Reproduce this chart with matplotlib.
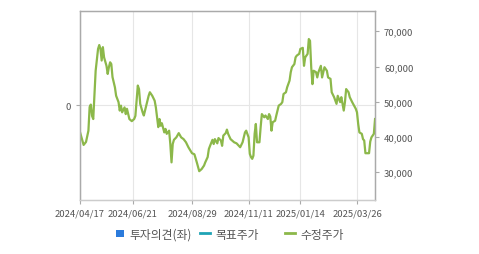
import matplotlib
matplotlib.use('Agg')
import matplotlib.pyplot as plt
from matplotlib.lines import Line2D
from matplotlib.patches import Patch

plt.rcParams['font.family'] = ['Noto Sans CJK KR', 'DejaVu Sans']

# trading-day index and adjusted close (수정주가)
day = [0, 2, 3, 5, 7, 8, 9, 10, 11, 12, 13, 15, 16, 17, 18, 19, 20, 22, 23, 24,
       25, 26, 27, 29, 30, 32, 33, 34, 35, 37, 38, 39, 41, 43, 45, 46, 47, 48, 49, 50,
       52, 53, 55, 57, 58, 60, 62, 63, 64, 65, 66, 67, 68, 70, 71, 72, 74, 75, 76, 77,
       78, 80, 82, 84, 86, 88, 90, 92, 93, 95, 97, 99, 101, 103, 104, 106, 107, 108, 110, 111,
       112, 114, 115, 117, 118, 119, 121, 122, 123, 125, 128, 130, 133, 135, 137, 138, 140, 141, 142, 143,
       144, 145, 146, 147, 149, 150, 151, 153, 154, 156, 157, 158, 159, 160, 162, 163, 165, 167, 168, 169,
       171, 172, 174, 175, 176, 178, 179, 180, 182, 183, 185, 186, 187, 189, 190, 191, 192, 193, 194, 196,
       197, 198, 200, 201, 203, 205, 206, 208, 209, 211, 213, 214, 216, 217, 219, 220, 221, 223, 224, 226,
       229, 230, 231, 232, 234, 235, 236, 237, 240, 241, 242, 244, 245]
price = [41400, 39000, 37750, 38600, 41800, 48500, 49200, 46000, 45100, 51700,
         58800, 65000, 66100, 65000, 61700, 65500, 62600, 60200, 57900, 59800,
         61200, 60700, 57000, 54100, 51700, 49900, 47500, 48900, 47000, 48400,
         46500, 48000, 45100, 44500, 45100, 46000, 50300, 54600, 53600, 49400,
         47000, 46100, 48900, 51700, 52700, 51700, 50300, 48400, 45600, 42800,
         45100, 43200, 43900, 41300, 42300, 40900, 41800, 38000, 32800, 38000,
         39200, 39900, 41100, 39900, 39400, 38500, 37100, 36000, 35400, 35100,
         32800, 30300, 30900, 31900, 32800, 34300, 36600, 37500, 39200, 38000,
         39400, 38200, 39700, 39000, 37500, 40400, 41100, 42100, 40900, 39400,
         38500, 38200, 37100, 38500, 41300, 41800, 39900, 35200, 34300, 33800,
         34700, 40900, 43700, 38500, 38500, 42800, 46500, 45600, 46100, 45100,
         46500, 45800, 41800, 44200, 44600, 46100, 48900, 49400, 49900, 52200,
         52700, 54100, 56000, 58400, 59800, 60700, 62600, 63100, 63600, 65000,
         65300, 60200, 62600, 63600, 67800, 67300, 59800, 55000, 58800, 58400,
         56900, 58400, 60200, 56900, 59800, 58800, 56900, 56500, 52700, 51300,
         49400, 51700, 49900, 51300, 47500, 49900, 53600, 52700, 51300, 49900,
         48000, 47000, 43700, 41300, 40900, 39400, 39000, 35400, 35400, 38700,
         39900, 40900, 45100]

tick_days = [0, 44, 93, 140, 183, 230]
tick_labels = ['2024/04/17', '2024/06/21', '2024/08/29', '2024/11/11', '2025/01/14', '2025/03/26']
price_ticks = [30000, 40000, 50000, 60000, 70000]

grey = '#aaaaaa'
txt = '#555555'

fig = plt.figure(figsize=(4.79, 2.55), dpi=100)
ax = fig.add_axes([0.167, 0.212, 0.616, 0.741])
ax.set_xlim(0, 245)
ax.set_ylim(-1, 1)
ax.set_yticks([0])
ax.set_yticklabels(['0'])
ax.set_xticks(tick_days)
ax.set_xticklabels(tick_labels)
ax.grid(True, color='#e6e6e6', lw=0.8)
ax.tick_params(axis='both', colors=grey, labelcolor=txt, labelsize=6.8, length=3, width=0.8)
for s in ax.spines.values():
    s.set_color(grey)
    s.set_linewidth(0.9)
ax.spines['bottom'].set_color('#cccccc')

ax2 = ax.twinx()
ax2.plot(day, price, color='#8cb84a', lw=1.6)
ax2.set_ylim(22140, 75760)
ax2.set_yticks(price_ticks)
ax2.set_yticklabels(['{:,}'.format(v) for v in price_ticks])
ax2.tick_params(axis='y', colors=grey, labelcolor=txt, labelsize=6.8, length=3, width=0.8)
for s in ax2.spines.values():
    s.set_color(grey)
    s.set_linewidth(0.9)
ax2.spines['bottom'].set_color('#cccccc')

# legend items placed one by one, like the original
items = [(Patch(facecolor='#2b7bdc', edgecolor='none'), '투자의견(좌)', 116 / 479, 0.65, 0.65),
         (Line2D([], [], color='#1fa3b5', lw=2), '목표주가', 200 / 479, 0.85, 0.7),
         (Line2D([], [], color='#8cb84a', lw=2), '수정주가', 285 / 479, 0.85, 0.7)]
for h, lab, x0, hl, hh in items:
    fig.legend([h], [lab], loc='center left', bbox_to_anchor=(x0, 0.078),
               frameon=False, fontsize=8.5, labelcolor='#555555', borderpad=0,
               borderaxespad=0, handlelength=hl, handleheight=hh, handletextpad=0.45)

fig.savefig('out.png', dpi=100)
